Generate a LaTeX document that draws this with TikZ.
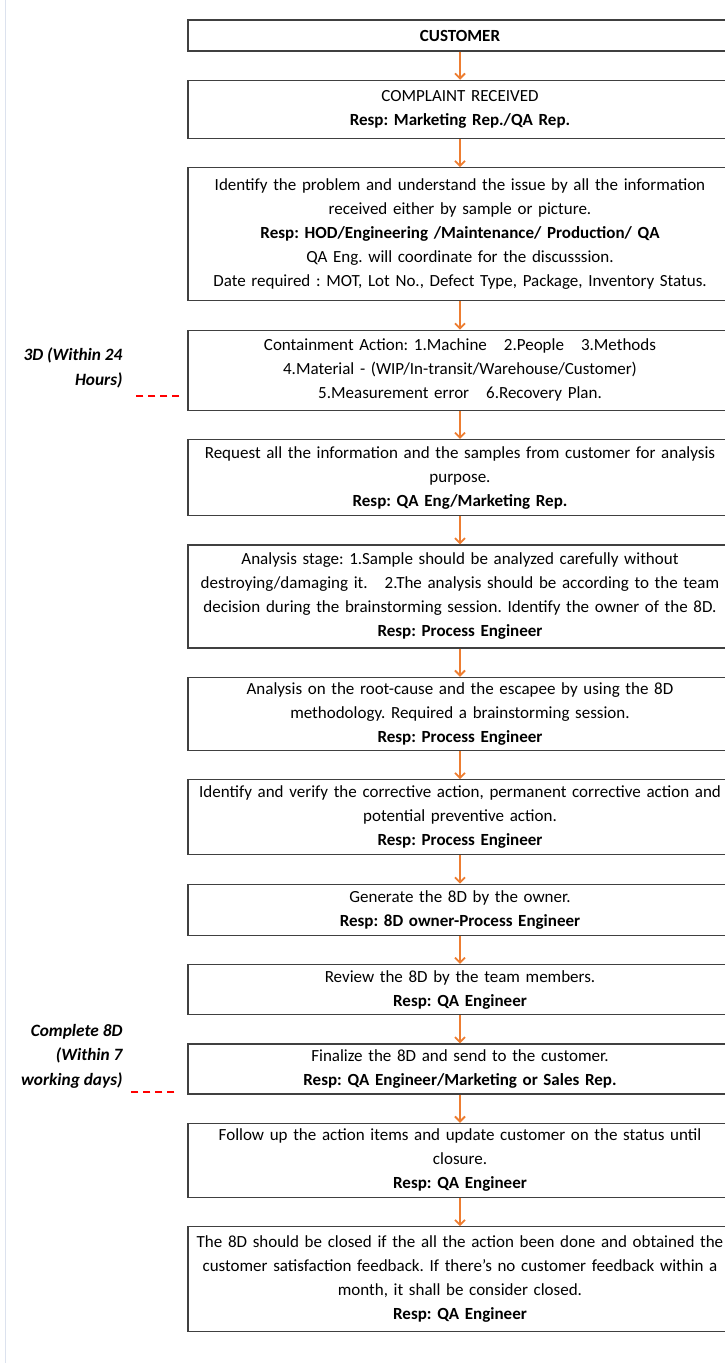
\documentclass[tikz,border=0pt]{standalone}
\usepackage{fontspec}
\setmainfont{Carlito}
\usepackage{xcolor}
\usepackage{tikz}
\usetikzlibrary{arrows.meta, positioning}
\frenchspacing

\definecolor{flowarrow}{RGB}{237,125,49}
\definecolor{boxline}{RGB}{64,64,64}
\definecolor{pageline}{RGB}{220,226,238}

\begin{document}
\begin{tikzpicture}[
    x=1pt, y=1pt,
    node distance=28.1pt,
    font=\fontsize{17}{24}\selectfont,
    stepbox/.style={
        rectangle,
        draw=boxline,
        line width=1.3pt,
        align=center,
        text width=542pt,
        inner xsep=1pt,
        inner ysep=0pt,
        minimum width=544pt
    },
    timing/.style={
        align=right,
        anchor=east,
        font=\fontsize{17.3}{24.5}\selectfont\bfseries\itshape
    },
    arrow/.style={-{Straight Barb[length=5pt,width=10pt]}, line width=1.8pt, draw=flowarrow},
    deadline/.style={draw=red, line width=2pt, dash pattern=on 7pt off 5pt}
]
\useasboundingbox (0,0) rectangle (725,-1363);
\draw[pageline, line width=1pt] (5,0) -- (5,-1363);

\node[stepbox, minimum height=31pt] (customer) at (460,-35.5) {
    \textbf{CUSTOMER}
};

\node[stepbox, minimum height=58pt, below=of customer] (complaint) {
    COMPLAINT RECEIVED\\
    \textbf{Resp: Marketing Rep./QA Rep.}
};

\node[stepbox, minimum height=133pt, below=of complaint] (identify) {
    Identify the problem and understand the issue by all the information\\
    received either by sample or picture.\\
    \textbf{Resp: HOD/Engineering /Maintenance/ Production/ QA}\\
    QA Eng. will coordinate for the discusssion.\\
    Date required : MOT, Lot No., Defect Type, Package, Inventory Status.
};

\node[stepbox, minimum height=80pt, below=of identify] (contain) {
    Containment Action: 1.Machine\quad 2.People\quad 3.Methods\\
    4.Material - (WIP/In-transit/Warehouse/Customer)\\
    5.Measurement error\quad 6.Recovery Plan.
};

\node[stepbox, minimum height=76pt, below=of contain] (request) {
    Request all the information and the samples from customer for analysis\\
    purpose.\\
    \textbf{Resp: QA Eng/Marketing Rep.}
};

\node[stepbox, minimum height=103pt, below=of request] (analysis) {
    Analysis stage: 1.Sample should be analyzed carefully without\\
    destroying/damaging it.\quad 2.The analysis should be according to the team\\
    decision during the brainstorming session. Identify the owner of the 8D.\\
    \textbf{Resp: Process Engineer}
};

\node[stepbox, minimum height=73pt, below=of analysis] (rootcause) {
    Analysis on the root-cause and the escapee by using the 8D\\
    methodology. Required a brainstorming session.\\
    \textbf{Resp: Process Engineer}
};

\node[stepbox, minimum height=75pt, below=of rootcause] (verify) {
    Identify and verify the corrective action, permanent corrective action and\\
    potential preventive action.\\
    \textbf{Resp: Process Engineer}
};

\node[stepbox, minimum height=51pt, below=of verify] (generate) {
    Generate the 8D by the owner.\\
    \textbf{Resp: 8D owner-Process Engineer}
};

\node[stepbox, minimum height=50pt, below=of generate] (review) {
    Review the 8D by the team members.\\
    \textbf{Resp: QA Engineer}
};

\node[stepbox, minimum height=50pt, below=of review] (finalize) {
    Finalize the 8D and send to the customer.\\
    \textbf{Resp: QA Engineer/Marketing or Sales Rep.}
};

\node[stepbox, minimum height=74pt, below=of finalize] (followup) {
    Follow up the action items and update customer on the status until\\
    closure.\\
    \textbf{Resp: QA Engineer}
};

\node[stepbox, minimum height=105pt, below=of followup] (closure) {
    The 8D should be closed if the all the action been done and obtained the\\
    customer satisfaction feedback. If there's no customer feedback within a\\
    month, it shall be consider closed.\\
    \textbf{Resp: QA Engineer}
};

% time limits on the left
\node[timing] (threed) at (126,-368) {3D (Within 24\\ Hours)};
\node[timing] (eightd) at (126,-1056) {Complete 8D\\ (Within 7\\ working days)};

\coordinate (threedend) at ([xshift=-8pt,yshift=15pt]contain.south west);
\coordinate (eightdend) at ([xshift=-13pt,yshift=3pt]finalize.south west);
\draw[deadline] (threedend) -- ++(-43,0);
\draw[deadline] (eightdend) -- ++(-43,0);

\draw[arrow] (customer) -- (complaint);
\draw[arrow] (complaint) -- (identify);
\draw[arrow] (identify) -- (contain);
\draw[arrow] (contain) -- (request);
\draw[arrow] (request) -- (analysis);
\draw[arrow] (analysis) -- (rootcause);
\draw[arrow] (rootcause) -- (verify);
\draw[arrow] (verify) -- (generate);
\draw[arrow] (generate) -- (review);
\draw[arrow] (review) -- (finalize);
\draw[arrow] (finalize) -- (followup);
\draw[arrow] (followup) -- (closure);

\end{tikzpicture}
\end{document}
